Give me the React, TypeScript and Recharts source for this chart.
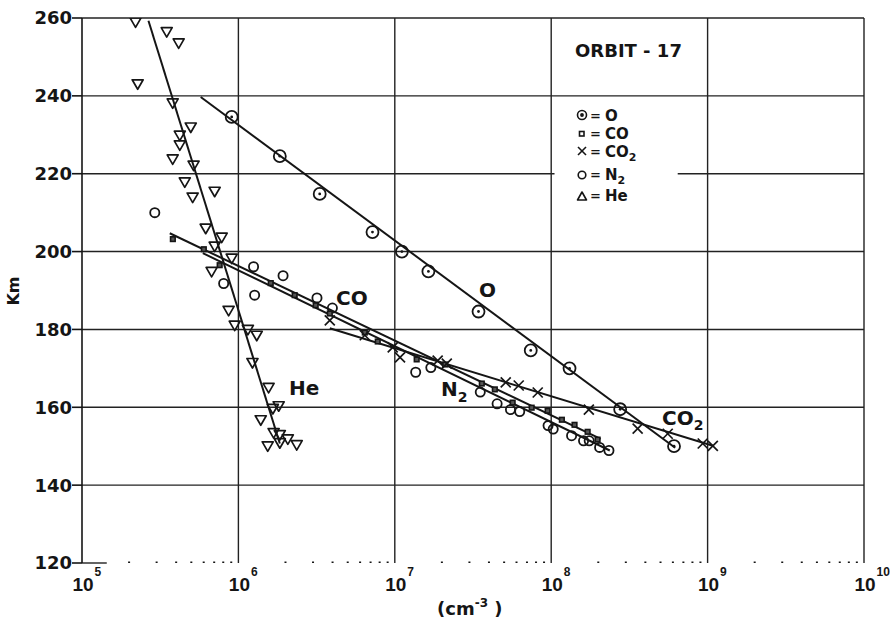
import React from 'react';
import { ScatterChart, Scatter, XAxis, YAxis, ReferenceLine } from 'recharts';

const xTicks = [1e5, 1e6, 1e7, 1e8, 1e9, 1e10];
const yTicks = [120, 140, 160, 180, 200, 220, 240, 260];
const fullGridY = [140, 160, 180, 200, 240, 260];
const gridX = [1e6, 1e7, 1e8, 1e9, 1e10];
const minorMultipliers = [2, 3, 4, 5, 6, 7, 8, 9];
const minorDecades = [1e5, 1e6, 1e7, 1e8, 1e9];

// Atomic oxygen (circle with dot)
const oData = [
  { x: 9.06e5, y: 234.6 }, { x: 1.84e6, y: 224.5 }, { x: 3.31e6, y: 214.8 },
  { x: 7.2e6, y: 205.0 }, { x: 1.11e7, y: 200.0 }, { x: 1.64e7, y: 194.9 },
  { x: 3.43e7, y: 184.6 }, { x: 7.4e7, y: 174.6 }, { x: 1.31e8, y: 170.0 },
  { x: 2.76e8, y: 159.5 }, { x: 6.1e8, y: 150.0 },
];
const oLine = [{ x: 5.74e5, y: 239.7 }, { x: 6.2e8, y: 149.6 }];

// CO (small squares)
const coData = [
  { x: 3.81e5, y: 203.2 }, { x: 6.01e5, y: 200.6 }, { x: 7.59e5, y: 196.5 },
  { x: 1.61e6, y: 191.9 }, { x: 2.29e6, y: 188.8 }, { x: 3.12e6, y: 186.2 },
  { x: 3.84e6, y: 184.1 }, { x: 6.43e6, y: 179.2 }, { x: 7.78e6, y: 176.9 },
  { x: 1.38e7, y: 172.3 }, { x: 2.1e7, y: 171.0 }, { x: 3.6e7, y: 166.1 },
  { x: 4.36e7, y: 164.6 }, { x: 5.67e7, y: 161.2 }, { x: 7.5e7, y: 159.9 },
  { x: 9.49e7, y: 159.1 }, { x: 1.17e8, y: 156.8 }, { x: 1.41e8, y: 155.5 },
  { x: 1.71e8, y: 153.7 }, { x: 1.98e8, y: 151.7 },
];
const coLine = [{ x: 3.64e5, y: 204.7 }, { x: 2.07e8, y: 151.9 }];

// CO2 (crosses)
const co2Data = [
  { x: 3.84e6, y: 182.3 }, { x: 6.43e6, y: 178.5 }, { x: 9.7e6, y: 175.4 },
  { x: 1.08e7, y: 172.8 }, { x: 1.88e7, y: 172.0 }, { x: 2.15e7, y: 171.2 },
  { x: 5.12e7, y: 166.4 }, { x: 6.2e7, y: 165.6 }, { x: 8.2e7, y: 163.8 },
  { x: 1.74e8, y: 159.4 }, { x: 3.57e8, y: 154.5 }, { x: 5.56e8, y: 153.2 },
  { x: 9.31e8, y: 150.7 }, { x: 1.08e9, y: 150.1 },
];
const co2Line = [{ x: 3.84e6, y: 180.3 }, { x: 1.08e9, y: 150.1 }];

// N2 (open circles)
const n2Data = [
  { x: 2.92e5, y: 210.0 }, { x: 8.05e5, y: 191.8 }, { x: 1.25e6, y: 196.1 },
  { x: 1.27e6, y: 188.8 }, { x: 1.93e6, y: 193.8 }, { x: 3.18e6, y: 188.1 },
  { x: 3.99e6, y: 185.5 }, { x: 1.36e7, y: 169.0 }, { x: 1.7e7, y: 170.2 },
  { x: 3.52e7, y: 163.9 }, { x: 4.51e7, y: 160.9 }, { x: 5.49e7, y: 159.4 },
  { x: 6.29e7, y: 158.9 }, { x: 9.55e7, y: 155.3 }, { x: 1.03e8, y: 154.4 },
  { x: 1.35e8, y: 152.7 }, { x: 1.61e8, y: 151.4 }, { x: 1.75e8, y: 151.4 },
  { x: 2.04e8, y: 149.7 }, { x: 2.34e8, y: 148.9 },
];
const n2Line = [{ x: 5.92e5, y: 199.6 }, { x: 2.37e8, y: 148.9 }];

// He (inverted triangles)
const heData = [
  { x: 2.2e5, y: 259.0 }, { x: 3.48e5, y: 256.5 }, { x: 4.15e5, y: 253.6 },
  { x: 2.27e5, y: 243.1 }, { x: 3.8e5, y: 238.2 }, { x: 4.96e5, y: 232.0 },
  { x: 4.22e5, y: 229.9 }, { x: 4.22e5, y: 227.4 }, { x: 3.8e5, y: 223.8 },
  { x: 5.17e5, y: 222.2 }, { x: 4.54e5, y: 217.9 }, { x: 7.05e5, y: 215.5 },
  { x: 5.1e5, y: 214.0 }, { x: 6.18e5, y: 206.0 }, { x: 7.82e5, y: 203.7 },
  { x: 7.05e5, y: 201.4 }, { x: 6.74e5, y: 194.9 }, { x: 9.06e5, y: 198.3 },
  { x: 8.66e5, y: 184.9 }, { x: 9.47e5, y: 181.1 }, { x: 1.15e6, y: 180.0 },
  { x: 1.31e6, y: 178.5 }, { x: 1.23e6, y: 171.5 }, { x: 1.56e6, y: 165.1 },
  { x: 1.81e6, y: 160.4 }, { x: 1.66e6, y: 159.7 }, { x: 1.39e6, y: 156.8 },
  { x: 1.68e6, y: 153.5 }, { x: 1.84e6, y: 153.0 }, { x: 2.07e6, y: 151.9 },
  { x: 1.84e6, y: 150.9 }, { x: 1.54e6, y: 150.1 }, { x: 2.36e6, y: 150.4 },
];
const heLine = [{ x: 2.66e5, y: 259.3 }, { x: 1.84e6, y: 150.7 }];

const INK = '#151515';
const FONT = 'DejaVu Sans, sans-serif';
const XFONT = 'Liberation Sans, Arial, sans-serif';

const minorTickData = minorDecades.flatMap((d) => minorMultipliers.map((m) => ({ x: d * m, y: 120 })));

const OShape = (p: any) => (
  <g>
    <circle cx={p.cx} cy={p.cy} r={6} fill="none" stroke={INK} strokeWidth={1.8} />
    <circle cx={p.cx} cy={p.cy} r={1.4} fill={INK} />
  </g>
);
const N2Shape = (p: any) => (
  <circle cx={p.cx} cy={p.cy} r={4.6} fill="none" stroke={INK} strokeWidth={1.8} />
);
const COShape = (p: any) => (
  <rect x={p.cx - 2.3} y={p.cy - 2.3} width={4.6} height={4.6} fill="#555" stroke={INK} strokeWidth={1.6} />
);
const CO2Shape = (p: any) => (
  <g stroke={INK} strokeWidth={1.7}>
    <line x1={p.cx - 5} y1={p.cy - 5} x2={p.cx + 5} y2={p.cy + 5} />
    <line x1={p.cx - 5} y1={p.cy + 5} x2={p.cx + 5} y2={p.cy - 5} />
  </g>
);
const HeShape = (p: any) => (
  <polygon
    points={`${p.cx - 5.5},${p.cy - 4} ${p.cx + 5.5},${p.cy - 4} ${p.cx},${p.cy + 5.5}`}
    fill="none"
    stroke={INK}
    strokeWidth={1.7}
    strokeLinejoin="round"
  />
);
const NoShape = () => <g />;
const MinorTick = (p: any) => <rect x={p.cx - 1} y={p.cy - 1.5} width={2} height={3} fill={INK} />;

const XTick = (props: any) => {
  const { x, y, payload } = props;
  const exp = Math.round(Math.log10(payload.value));
  return (
    <g fill={INK} fontFamily={XFONT} fontWeight="bold">
      <text x={x + 1} y={y + 28} textAnchor="middle" fontSize={19}>10</text>
      <text x={x + 12.5} y={y + 13} textAnchor="start" fontSize={12}>{exp}</text>
    </g>
  );
};

const lineStyle = { stroke: INK, strokeWidth: 2 };
const gridStroke = { stroke: '#222', strokeWidth: 1.4 };

export default function App() {
  return (
    <div style={{ position: 'absolute', left: 0, top: 0, width: 890, height: 619, background: '#fff' }}>
      <ScatterChart width={890} height={619} margin={{ top: 18, right: 26, bottom: 0, left: 0 }}>
        <XAxis
          type="number"
          dataKey="x"
          scale="log"
          domain={[1e5, 1e10]}
          ticks={xTicks}
          allowDataOverflow
          axisLine={false}
          tickLine={false}
          tickSize={0}
          tickMargin={0}
          height={56}
          tick={<XTick />}
          interval={0}
        />
        <YAxis
          type="number"
          dataKey="y"
          domain={[120, 260]}
          ticks={yTicks}
          allowDataOverflow
          width={82}
          axisLine={{ stroke: INK, strokeWidth: 1.6 }}
          tickLine={{ stroke: INK, strokeWidth: 1.6 }}
          tickSize={10}
          tickMargin={0}
          interval={0}
          tick={{ fill: INK, fontSize: 18, fontWeight: 'bold', fontFamily: FONT }}
        />
        {fullGridY.map((v) => (
          <ReferenceLine key={'gy' + v} y={v} {...gridStroke} />
        ))}
        <ReferenceLine segment={[{ x: 1e5, y: 220 }, { x: 1.05e8, y: 220 }]} {...gridStroke} />
        <ReferenceLine segment={[{ x: 6.44e8, y: 220 }, { x: 1e10, y: 220 }]} {...gridStroke} />
        <ReferenceLine segment={[{ x: 1e5, y: 120 }, { x: 1.44e5, y: 120 }]} {...gridStroke} />
        {gridX.map((v) => (
          <ReferenceLine key={'gx' + v} x={v} {...gridStroke} />
        ))}
        <Scatter data={minorTickData} shape={MinorTick} isAnimationActive={false} />

        <Scatter data={oLine} line={lineStyle} shape={NoShape} isAnimationActive={false} />
        <Scatter data={heLine} line={lineStyle} shape={NoShape} isAnimationActive={false} />
        <Scatter data={coLine} line={lineStyle} shape={NoShape} isAnimationActive={false} />
        <Scatter data={n2Line} line={lineStyle} shape={NoShape} isAnimationActive={false} />
        <Scatter data={co2Line} line={lineStyle} shape={NoShape} isAnimationActive={false} />

        <Scatter data={oData} shape={OShape} isAnimationActive={false} />
        <Scatter data={heData} shape={HeShape} isAnimationActive={false} />
        <Scatter data={n2Data} shape={N2Shape} isAnimationActive={false} />
        <Scatter data={coData} shape={COShape} isAnimationActive={false} />
        <Scatter data={co2Data} shape={CO2Shape} isAnimationActive={false} />
      </ScatterChart>

      <svg
        width={890}
        height={619}
        style={{ position: 'absolute', left: 0, top: 0, pointerEvents: 'none' }}
        fontFamily={FONT}
        fontWeight="bold"
        fill={INK}
      >
        <text x={575} y={57} fontSize={18}>ORBIT - 17</text>

        <g stroke={INK} strokeWidth={1.6} fill="none">
          <circle cx={582} cy={115} r={4.5} />
          <circle cx={582} cy={115} r={1.1} fill={INK} />
          <rect x={579.5} y={131.5} width={4.5} height={4.5} />
          <line x1={578} y1={147} x2={586} y2={155} />
          <line x1={578} y1={155} x2={586} y2={147} />
          <circle cx={582} cy={175} r={3.8} />
          <polygon points="577.5,200 586.5,200 582,192" strokeLinejoin="round" />
        </g>
        <g fontSize={13}>
          <text x={590} y={120}>=</text>
          <text x={590} y={138}>=</text>
          <text x={590} y={156}>=</text>
          <text x={590} y={179}>=</text>
          <text x={590} y={200}>=</text>
        </g>
        <g fontSize={15}>
          <text x={605} y={121}>O</text>
          <text x={605} y={139}>CO</text>
          <text x={605} y={157}>CO<tspan fontSize={11} dy={4}>2</tspan></text>
          <text x={605} y={180}>N<tspan fontSize={11} dy={4}>2</tspan></text>
          <text x={605} y={201}>He</text>
        </g>

        <g fontSize={20}>
          <text x={479} y={297}>O</text>
          <text x={336} y={305}>CO</text>
          <text x={289} y={395}>He</text>
          <text x={441} y={396}>N<tspan fontSize={14} dy={6}>2</tspan></text>
          <text x={662} y={425}>CO<tspan fontSize={14} dy={5}>2</tspan></text>
        </g>

        <text x={437} y={615} fontSize={18}>(cm<tspan fontSize={12} dy={-8}>-3</tspan><tspan dy={8}> )</tspan></text>
        <text x={0} y={0} fontSize={16} transform="translate(19,291) rotate(-90)" textAnchor="middle">Km</text>
      </svg>
    </div>
  );
}
